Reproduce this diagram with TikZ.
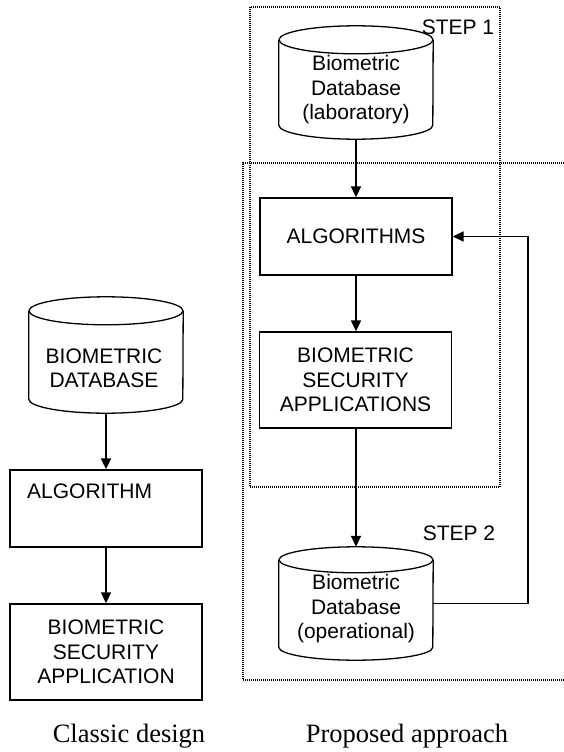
\documentclass[tikz,border=0pt]{standalone}
\usepackage{fontspec}
\setmainfont{Liberation Serif}
\newfontfamily\arialish{Liberation Sans}
\usetikzlibrary{arrows.meta}
\tikzset{
  boxnode/.style={draw, line width=1.3pt, minimum width=192pt, inner sep=0pt, align=center,
    font=\arialish\fontsize{21}{24.5}\selectfont},
  cylnode/.style={minimum width=154pt, inner sep=0pt},
  cyltext/.style={align=center, inner sep=0pt, font=\arialish\fontsize{21}{24.5}\selectfont},
  steplabel/.style={inner sep=0pt, font=\arialish\fontsize{21}{24.5}\selectfont},
  caption/.style={inner sep=0pt, font=\fontsize{26.5}{30}\selectfont},
  flow/.style={line width=1.7pt, -{Triangle[length=11pt,width=10pt]}},
  feedline/.style={line width=1.4pt},
  stepframe/.style={line width=1.1pt, dash pattern=on 1pt off 1pt},
  cylline/.style={line width=1.3pt}
}
\newcommand{\drawcyl}[2]{%
  \draw[cylline] ([yshift=-#2]#1.north west) -- ([yshift=#2]#1.south west)
    arc[start angle=180, end angle=360, x radius=77pt, y radius=#2]
    -- ([yshift=-#2]#1.north east);
  \draw[cylline] ([yshift=-#2]#1.north) ellipse [x radius=77pt, y radius=#2];
}
\begin{document}
\begin{tikzpicture}[x=1pt, y=-1pt]
\useasboundingbox (0,0) rectangle (564,752);

% step frames
\draw[stepframe] (250,7) rectangle (500,487);
\draw[stepframe] (564,163) -- (243,163) -- (243,680) -- (564,680);
\node[steplabel] (s1) at (458,27) {STEP 1};
\node[steplabel] (s2) at (459,533) {STEP 2};

% proposed approach
\node[cylnode, minimum height=113pt] (lab) at (356,82.5) {};
\drawcyl{lab}{14pt}
\node[cyltext] (labt) at (356,90) {Biometric\\Database\\(laboratory)};

\node[boxnode, minimum height=77pt] (alg) at (356,236.5) {ALGORITHMS};
\node[boxnode, minimum height=96pt] (bsa) at (355.5,380) {BIOMETRIC\\SECURITY\\APPLICATIONS};

\node[cylnode, minimum height=113pt] (op) at (356,603.5) {};
\drawcyl{op}{13pt}
\node[cyltext] (opt) at (356,609) {Biometric\\Database\\(operational)};

\coordinate (fb) at (528,603.5);
\draw[flow] (lab.south) -- (alg.north);
\draw[flow] (alg.south) -- (alg.south |- bsa.north);
\draw[flow] (alg.south |- bsa.south) -- (op.north);
\draw[feedline] (op.east) -- (fb);
\draw[flow] (fb) |- (alg.east);

% classic design
\node[cylnode, minimum height=116pt] (db) at (106,355) {};
\drawcyl{db}{14pt}
\node[cyltext] (dbt) at (104,368.5) {BIOMETRIC\\DATABASE};

\node[boxnode, minimum height=77pt] (alg2) at (106,508.5) {};
\node[steplabel, anchor=west] (alg2t) at (27,491) {ALGORITHM};
\node[boxnode, minimum height=96pt] (bsa2) at (106,652) {BIOMETRIC\\SECURITY\\APPLICATION};

\draw[flow] (db.south) -- (alg2.north);
\draw[flow] (alg2.south) -- (bsa2.north);

% captions
\node[caption] (c1) at (129,736) {Classic design};
\node[caption] (c2) at (407,736) {Proposed approach};
\end{tikzpicture}
\end{document}
